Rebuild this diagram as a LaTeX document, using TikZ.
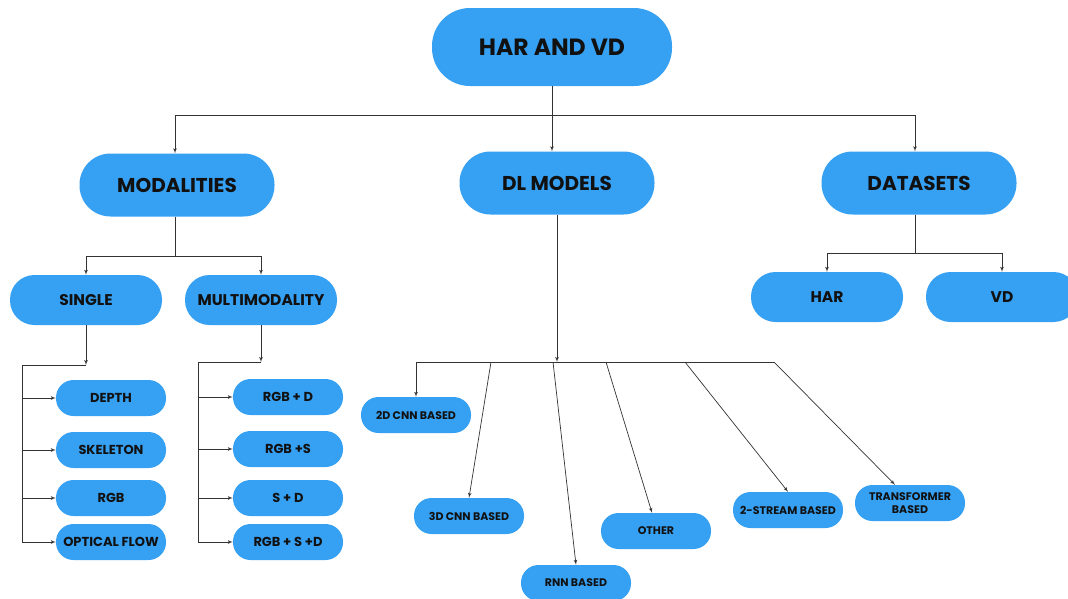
\documentclass[tikz,border=0pt]{standalone}
\usepackage{fontspec}
\setmainfont{Poppins}
\usetikzlibrary{shapes,arrows,positioning}
\definecolor{pillblue}{RGB}{54,160,243}
\definecolor{inkblack}{RGB}{17,17,17}

\begin{document}
\begin{tikzpicture}[x=1pt, y=-1pt,
    pill/.style={rectangle, fill=pillblue, text=inkblack, align=center, inner sep=0pt, font=\bfseries},
    rootbox/.style={pill, minimum width=240pt, minimum height=78pt, rounded corners=38pt},
    topbox/.style={pill, minimum width=195pt, minimum height=63pt, rounded corners=31pt},
    midbox/.style={pill, minimum width=152pt, minimum height=50pt, rounded corners=24.5pt},
    leafbox/.style={pill, minimum width=110pt, minimum height=36pt, rounded corners=17.5pt},
    link/.style={draw, line width=0.7pt, black!80},
    arrow/.style={link, -latex'}]
\useasboundingbox (0,0) rectangle (1068,598);

% root and first level
\node [rootbox, font=\fontsize{23.5}{27}\selectfont\bfseries] (root) at (552,47) {HAR AND VD};
\node [topbox, font=\fontsize{20}{24}\selectfont\bfseries] (modal) at (177,185) {MODALITIES};
\node [topbox, font=\fontsize{20}{24}\selectfont\bfseries] (dl) at (557,183) {DL MODELS};
\node [topbox, font=\fontsize{20}{24}\selectfont\bfseries] (data) at (919,183) {DATASETS};

\coordinate (bus) at (552,115);
\path [link] (root) -- (bus);
\path [arrow] (bus) -| ([xshift=-2pt]modal.north);
\path [arrow] (bus) -- (bus |- dl.north);
\path [arrow] (bus) -| ([xshift=-4pt]data.north);

% modalities
\node [midbox, font=\fontsize{15.5}{18}\selectfont\bfseries] (single) at (86,300) {SINGLE};
\node [midbox, font=\fontsize{15.5}{18}\selectfont\bfseries] (multi) at (261,300) {MULTIMODALITY};
\coordinate (mbus) at (175,256);
\path [link] ([xshift=-2pt]modal.south) -- (mbus);
\path [arrow] (mbus) -| (single.north);
\path [arrow] (mbus) -| (multi.north);

\node [leafbox, font=\fontsize{13}{16}\selectfont\bfseries] (depth) at (111,398) {DEPTH};
\node [leafbox, font=\fontsize{13}{16}\selectfont\bfseries] (skel) at (111,450) {SKELETON};
\node [leafbox, font=\fontsize{13}{16}\selectfont\bfseries] (rgb) at (111,498) {RGB};
\node [leafbox, font=\fontsize{13}{16}\selectfont\bfseries] (flow) at (111,542) {OPTICAL FLOW};
\coordinate (sbus) at (86,365);
\coordinate (srail) at (22,365);
\path [arrow] (single) -- (sbus);
\path [link] (sbus) -- (srail) -- (srail |- flow);
\foreach \n in {depth,skel,rgb,flow}
    \path [arrow] (srail |- \n) -- (\n.west);

\node [leafbox, font=\fontsize{13}{16}\selectfont\bfseries] (rgbd) at (288,397) {RGB + D};
\node [leafbox, font=\fontsize{13}{16}\selectfont\bfseries] (rgbs) at (288,449) {RGB +S};
\node [leafbox, font=\fontsize{13}{16}\selectfont\bfseries] (sd) at (288,498) {S + D};
\node [leafbox, font=\fontsize{13}{16}\selectfont\bfseries] (rgbsd) at (288,542) {RGB + S +D};
\coordinate (mmbus) at (261,362);
\coordinate (mrail) at (198,362);
\path [arrow] (multi) -- (mmbus);
\path [link] (mmbus) -- (mrail) -- (mrail |- rgbsd);
\foreach \n in {rgbd,rgbs,sd,rgbsd}
    \path [arrow] (mrail |- \n) -- (\n.west);

% dl models
\node [leafbox, font=\fontsize{11}{12.5}\selectfont\bfseries] (cnn2) at (416,415) {2D CNN BASED};
\node [leafbox, font=\fontsize{11}{12.5}\selectfont\bfseries] (cnn3) at (469,516) {3D CNN BASED};
\node [leafbox, font=\fontsize{11}{12.5}\selectfont\bfseries] (rnn) at (576,583) {RNN BASED};
\node [leafbox, font=\fontsize{11}{12.5}\selectfont\bfseries] (other) at (656,531) {OTHER};
\node [leafbox, font=\fontsize{11}{12.5}\selectfont\bfseries] (stream) at (788,510) {2-STREAM BASED};
\node [leafbox, font=\fontsize{11}{12.5}\selectfont\bfseries] (trans) at (910,503) {TRANSFORMER\\BASED};
\coordinate (dlbus) at (557,362);
\coordinate (fan2d) at (416,362);
\coordinate (fan3d) at (491,362);
\coordinate (fanrnn) at (553,362);
\coordinate (fanoth) at (606,362);
\coordinate (fanstr) at (685,362);
\coordinate (fantr) at (774,362);
\path [arrow] (dl) -- (dlbus);
\path [link] (fan2d) -- (fantr);
\path [arrow] (fan2d) -- (cnn2.north);
\path [arrow] (fan3d) -- (cnn3.north);
\path [arrow] (fanrnn) -- (rnn.north);
\path [arrow] (fanoth) -- ([xshift=-4pt]other.north);
\path [arrow] (fanstr) -- (stream.north);
\path [arrow] (fantr) -- ([xshift=-15pt]trans.north);

% datasets
\node [midbox, font=\fontsize{15.5}{18}\selectfont\bfseries] (dshar) at (827,297) {HAR};
\node [midbox, font=\fontsize{15.5}{18}\selectfont\bfseries] (dsvd) at (1002,297) {VD};
\coordinate (dbus) at (915,253);
\path [link] ([xshift=-4pt]data.south) -- (dbus);
\path [arrow] (dbus) -| (dshar.north);
\path [arrow] (dbus) -| (dsvd.north);
\end{tikzpicture}
\end{document}
